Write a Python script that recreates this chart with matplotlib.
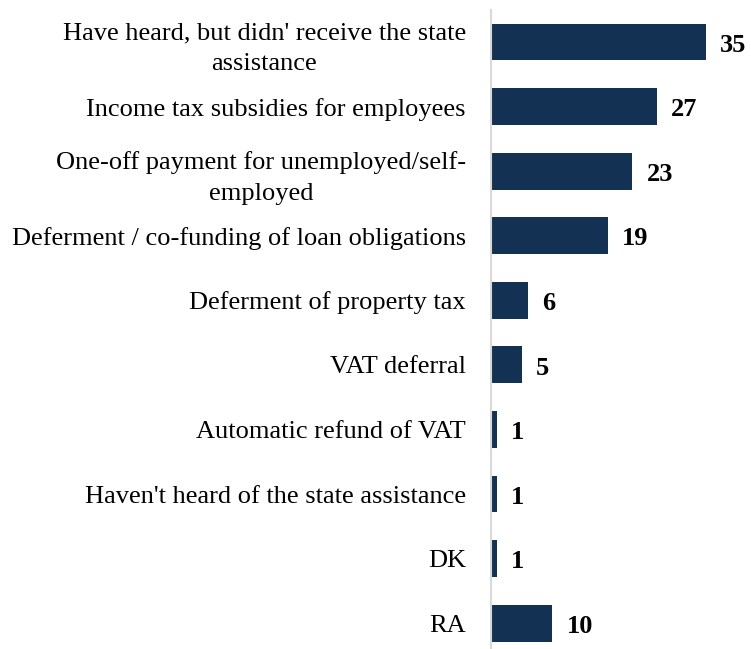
import matplotlib.pyplot as plt

# 資料
categories = [
    "Have heard, but didn' receive the state\nassistance",
    "Income tax subsidies for employees",
    "One-off payment for unemployed/self-\nemployed",
    "Deferment / co-funding of loan obligations",
    "Deferment of property tax",
    "VAT deferral",
    "Automatic refund of VAT",
    "Haven't heard of the state assistance",
    "DK",
    "RA",
]
values = [35, 27, 23, 19, 6, 5, 1, 1, 1, 10]

plt.rcParams['font.family'] = ['Liberation Serif', 'DejaVu Serif']

fig = plt.figure(figsize=(7.51, 6.49), dpi=100)
ax = fig.add_axes([491 / 751, 0, 1 - 491 / 751, 639 / 649])

pos = list(range(len(values)))
ax.barh(pos, values, height=0.57, color='#133253')

for y, v in zip(pos, values):
    ax.text(v + 2.3, y + 0.05, str(v), va='center', ha='left',
            fontsize=19, fontweight='bold', color='black')

ax.set_xlim(0, 42.3)
ax.set_ylim(9.40, -0.496)

ax.set_yticks(pos)
ax.set_yticklabels(categories, fontsize=19, multialignment='center',
                   linespacing=1.5)
ax.tick_params(axis='y', length=0, pad=18)
ax.set_xticks([])

for s in ['top', 'right', 'bottom']:
    ax.spines[s].set_visible(False)
ax.spines['left'].set_color('#d9d9d9')
ax.spines['left'].set_linewidth(1.5)

fig.savefig('out.png', dpi=100)
